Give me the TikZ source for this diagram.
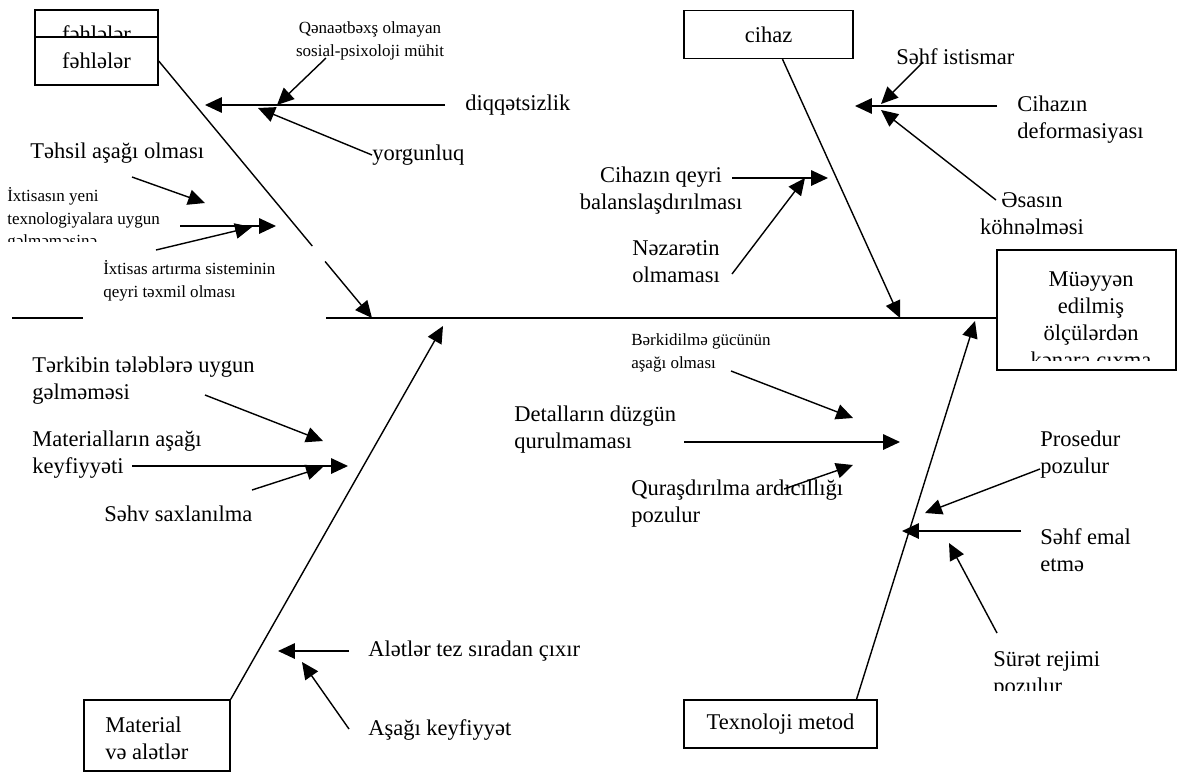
\documentclass[tikz,border=0pt]{standalone}
\usepackage{fontspec}
\setmainfont{Liberation Serif}
\usetikzlibrary{arrows.meta,calc}

\begin{document}
\begin{tikzpicture}[x=0.025cm, y=-0.025cm,
    box/.style={draw, line width=1pt, fill=white, minimum height=1.2cm,
                inner sep=0pt, font=\fontsize{16}{19.3}\selectfont},
    big/.style={inner sep=0pt, align=left, font=\fontsize{16}{19.3}\selectfont},
    sml/.style={inner sep=0pt, align=left, font=\fontsize{12.1}{16}\selectfont},
    line/.style={line width=1pt},
    arr/.style={-{Triangle[length=12pt,width=11pt]}, line width=1pt}]

    \useasboundingbox (0,0) rectangle (1196,772);

    % result box
    \node[box, minimum width=4.475cm, minimum height=3cm] (res) at (1086.5,310) {};
    \begin{scope}
      \clip (997,250) rectangle (1176,360);
      \node[big, align=center] (restxt) at (1091,322) {Müəyyən\\edilmiş\\ölçülərdən\\kənara çıxma};
    \end{scope}

    % spine
    \coordinate (spL1) at (12,318);
    \coordinate (spL2) at (83,318);
    \coordinate (spM)  at (326,318);
    \draw[line] (spL1) -- (spL2);
    \draw[line] (spM) -- (spM -| res.west);

    % category boxes
    \node[box, minimum width=3.075cm] (fehle1) at (96.5,34) {fəhlələr};
    \node[box, minimum width=3.075cm] (fehle2) at (96.5,61) {fəhlələr};
    \node[box, minimum width=4.225cm] (cihaz)  at (768.5,34.5) {cihaz};
    \node[box, minimum width=3.65cm, minimum height=1.775cm] (mat) at (157,735.5) {};
    \node[big, anchor=west] (mattxt) at (105,738) {Material\\və alətlər};
    \node[box, minimum width=4.825cm] (tex) at (780.5,724) {Texnoloji metod};

    % bones
    \coordinate (hA) at (372,318);
    \coordinate (hB) at (900,318);
    \coordinate (hC) at (443,326);
    \coordinate (hD) at (975,321);
    \draw[line] (fehle2.east) -- ($(fehle2.east)!0.72!(hA)$);
    \draw[arr] ($(fehle2.east)!0.78!(hA)$) -- (hA);
    \draw[arr] ($(cihaz.south)+(14,0)$) -- (hB);
    \draw[arr] (mat.north east) -- (hC);
    \draw[arr] ($(tex.north)+(76,0)$) -- (hD);

    % fehleler causes
    \node[big, anchor=west] (diq) at (465,105) {diqqətsizlik};
    \node[sml, align=center] (sosial) at (370,41) {Qənaətbəxş olmayan\\sosial-psixoloji mühit};
    \node[big, anchor=west] (yorg) at (372,155) {yorgunluq};
    \node[big, anchor=west] (tehsil) at (30,153) {Təhsil aşağı olması};
    \begin{scope}
      \clip (0,180) rectangle (170,241);
      \node[sml, anchor=west] (ixt1) at (7,219) {İxtisasın yeni\\texnologiyalara uygun\\gəlməməsinə};
    \end{scope}
    \node[sml, anchor=west] (ixt2) at (103,281) {İxtisas artırma sisteminin\\qeyri təxmil olması};

    \coordinate (diqH) at (205,105);
    \coordinate (sosT) at (326,58);
    \coordinate (sosH) at (277,105);
    \coordinate (yorgH) at (258,108);
    \coordinate (tehT) at (132,177);
    \coordinate (tehH) at (205,203);
    \coordinate (ixt1T) at (180,226);
    \coordinate (ixt1H) at (276,226);
    \coordinate (ixt2T) at (156,250);
    \coordinate (ixt2H) at (252,227);
    \draw[arr] ($(diq.west)+(-20,0)$) -- (diqH);
    \draw[arr] (sosT) -- (sosH);
    \draw[arr] (yorg.west) -- (yorgH);
    \draw[arr] (tehT) -- (tehH);
    \draw[arr] (ixt1T) -- (ixt1H);
    \draw[arr] (ixt2T) -- (ixt2H);

    % cihaz causes
    \node[big, anchor=west] (istismar) at (896,57) {Səhf istismar};
    \node[big, anchor=west] (deform) at (1017,120) {Cihazın\\deformasiyası};
    \node[big, align=center] (esas) at (1032,214) {Əsasın\\köhnəlməsi};
    \node[big, align=center] (balans) at (661,191) {Cihazın qeyri\\balanslaşdırılması};
    \node[big, align=center] (nezaret) at (676,262) {Nəzarətin\\olmaması};

    \coordinate (istT) at (923,62);
    \coordinate (istH) at (881,104);
    \coordinate (defT) at (997,106);
    \coordinate (defH) at (855,106);
    \coordinate (esasT) at (996,200);
    \coordinate (esasH) at (881,110);
    \coordinate (balT) at (732,178);
    \coordinate (balH) at (828,178);
    \coordinate (nezT) at (732,274);
    \coordinate (nezH) at (805,178);
    \draw[arr] (istT) -- (istH);
    \draw[arr] (defT) -- (defH);
    \draw[arr] (esasT) -- (esasH);
    \draw[arr] (balT) -- (balH);
    \draw[arr] (nezT) -- (nezH);

    % material causes
    \node[big, anchor=west] (terkib) at (32,381) {Tərkibin tələblərə uygun\\gəlməməsi};
    \node[big, anchor=west] (matq) at (32,455) {Materialların aşağı\\keyfiyyəti};
    \node[big, anchor=west] (saxla) at (104,514) {Səhv saxlanılma};
    \node[big, anchor=west] (alet) at (368,651) {Alətlər tez sıradan çıxır};
    \node[big, anchor=west] (asagi) at (368,730) {Aşağı keyfiyyət};

    \coordinate (terT) at (205,395);
    \coordinate (terH) at (323,441);
    \coordinate (matT) at (132,466);
    \coordinate (matH) at (348,466);
    \coordinate (saxT) at (252,490);
    \coordinate (saxH) at (323,467);
    \coordinate (aletH) at (278,651);
    \coordinate (asaT) at (349,729);
    \coordinate (asaH) at (302,662);
    \draw[arr] (terT) -- (terH);
    \draw[arr] (matT) -- (matH);
    \draw[arr] (saxT) -- (saxH);
    \draw[arr] ($(alet.west)+(-19,0)$) -- (aletH);
    \draw[arr] (asaT) -- (asaH);

    % texnoloji causes
    \node[sml, anchor=west] (berk) at (631,353) {Bərkidilmə gücünün\\aşağı olması};
    \node[big, anchor=west] (detal) at (514,430) {Detalların düzgün\\qurulmaması};
    \node[big, anchor=west] (qurash) at (631,504) {Quraşdırılma ardıcıllığı\\pozulur};
    \node[big, anchor=west] (prosed) at (1040,455) {Prosedur\\pozulur};
    \node[big, anchor=west] (emal) at (1040,550) {Səhf emal\\etmə};
    \begin{scope}
      \clip (970,630) rectangle (1150,690);
      \node[big, anchor=west] (suret) at (993,675) {Sürət rejimi\\pozulur};
    \end{scope}

    \coordinate (berkT) at (731,371);
    \coordinate (berkH) at (853,418);
    \coordinate (detT) at (684,442);
    \coordinate (detH) at (900,442);
    \coordinate (qurT) at (784,489);
    \coordinate (qurH) at (853,465);
    \coordinate (proT) at (1040,469);
    \coordinate (proH) at (925,513);
    \coordinate (emalT) at (1021,531);
    \coordinate (emalH) at (902,531);
    \coordinate (surT) at (997,633);
    \coordinate (surH) at (949,543);
    \draw[arr] (berkT) -- (berkH);
    \draw[arr] (detT) -- (detH);
    \draw[arr] (qurT) -- (qurH);
    \draw[arr] (proT) -- (proH);
    \draw[arr] (emalT) -- (emalH);
    \draw[arr] (surT) -- (surH);
\end{tikzpicture}
\end{document}
